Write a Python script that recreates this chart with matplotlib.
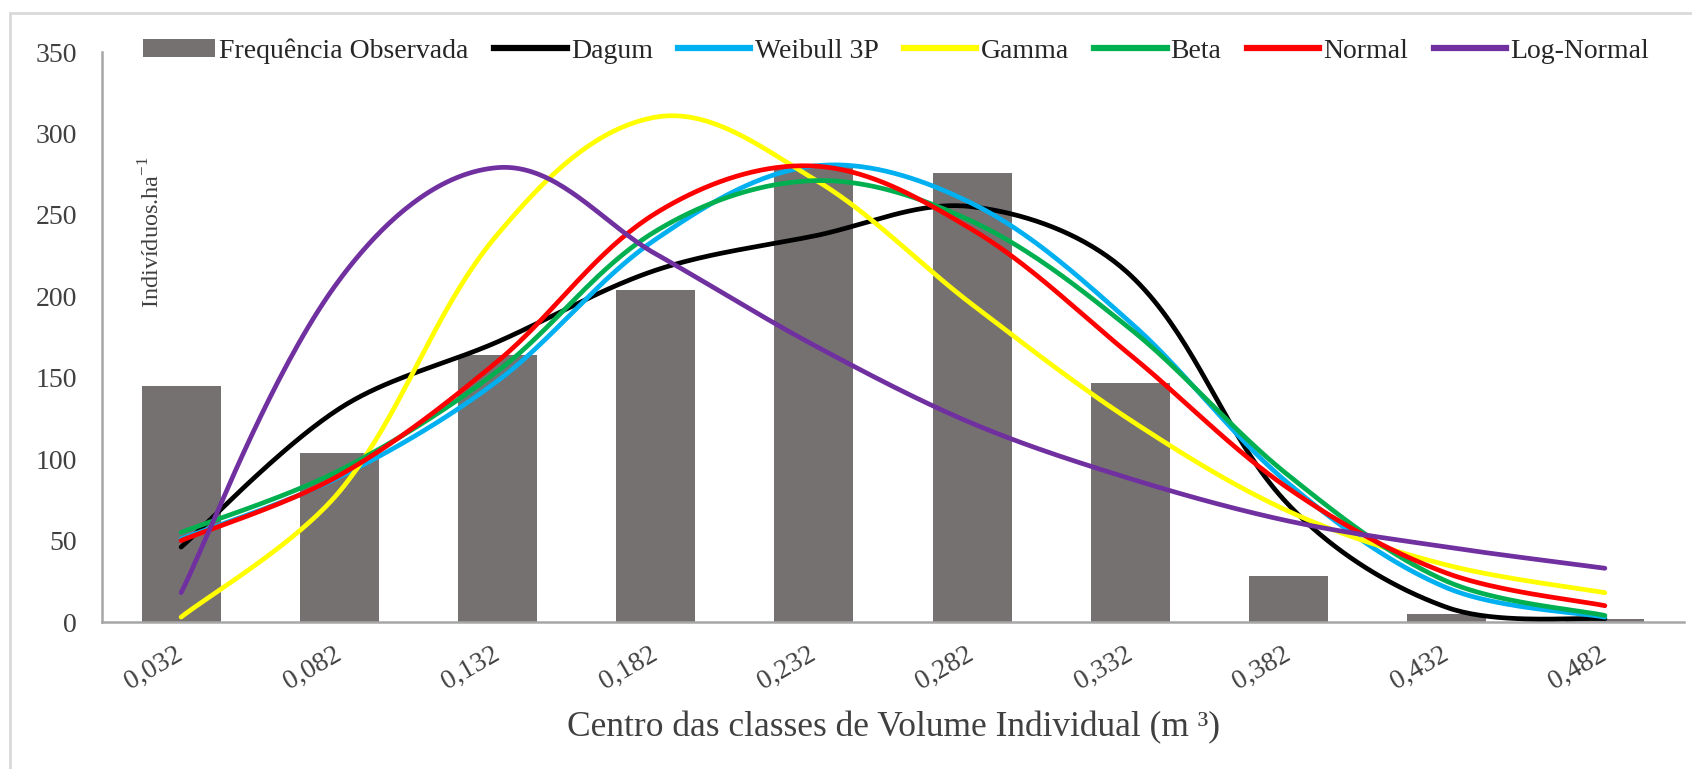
import numpy as np
import matplotlib
matplotlib.use("Agg")
import matplotlib.pyplot as plt
from matplotlib.patches import Rectangle, Patch
from matplotlib.lines import Line2D

# Class centres of individual volume (m³)
classes = ["0,032", "0,082", "0,132", "0,182", "0,232",
           "0,282", "0,332", "0,382", "0,432", "0,482"]

# Observed frequency (individuals per hectare)
observed = [145, 104, 164, 204, 280, 276, 147, 28, 5, 2]

# Fitted frequencies per distribution
dagum = [46, 131, 172, 216, 237, 255, 213, 72, 9, 2]
weibull3p = [51, 89, 148, 235, 280, 257, 184, 85, 21, 3]
gamma = [3, 80, 238, 310, 272, 195, 124, 68, 35, 18]
beta = [55, 93, 154, 240, 271, 246, 180, 90, 25, 4]
normal = [50, 90, 160, 251, 280, 241, 164, 82, 30, 10]
lognormal = [18, 210, 279, 226, 170, 122, 88, 62, 46, 33]

series_names = ["Dagum", "Weibull 3P", "Gamma", "Beta", "Normal", "Log-Normal"]
series_values = [dagum, weibull3p, gamma, beta, normal, lognormal]
series_colors = ["#000000", "#00B0F0", "#FFFF00", "#00B050", "#FF0000", "#7030A0"]

SERIF = ["Liberation Serif", "DejaVu Serif"]
plt.rcParams["font.family"] = SERIF
plt.rcParams["mathtext.fontset"] = "custom"
plt.rcParams["mathtext.rm"] = "Liberation Serif"


def smooth_curve(ax, xv, yv, samples=40):
    """Smoothed line through the points: cubic Bezier segments built in
    screen space, tangent along the neighbouring chord, handle = 1/3 segment."""
    pts = ax.transData.transform(np.column_stack([xv, yv]).astype(float))
    n = len(pts)
    dirs = np.empty_like(pts)
    for i in range(n):
        if i == 0:
            d = pts[1] - pts[0]
        elif i == n - 1:
            d = pts[-1] - pts[-2]
        else:
            d = pts[i + 1] - pts[i - 1]
        dirs[i] = d / np.hypot(*d)
    t = np.linspace(0, 1, samples, endpoint=False)[:, None]
    out = []
    for i in range(n - 1):
        p0, p3 = pts[i], pts[i + 1]
        seg = np.hypot(*(p3 - p0))
        h0 = seg / (6 if i == 0 else 3)
        h1 = seg / (6 if i == n - 2 else 3)
        p1 = p0 + dirs[i] * h0
        p2 = p3 - dirs[i + 1] * h1
        out.append((1 - t) ** 3 * p0 + 3 * (1 - t) ** 2 * t * p1
                   + 3 * (1 - t) * t ** 2 * p2 + t ** 3 * p3)
    out.append(pts[-1:])
    curve = ax.transData.inverted().transform(np.vstack(out))
    return curve[:, 0], curve[:, 1]


W, H = 1692, 769
fig = plt.figure(figsize=(W / 100, H / 100), dpi=100)

# chart-area border
fig.patches.append(Rectangle((10 / W, -0.05), 1.2, (H - 13) / H + 0.05,
                             transform=fig.transFigure, fill=False,
                             edgecolor="#d9d9d9", linewidth=2.0))

left, right, bottom, top = 102, 1684, 622, 52
ax = fig.add_axes([left / W, 1 - bottom / H, (right - left) / W, (bottom - top) / H])

x = np.arange(len(classes))
ax.set_xlim(-0.5, len(classes) - 0.5)
ax.set_ylim(0, 350)

ax.bar(x, observed, width=0.5, color="#767171", zorder=1)

for vals, color, name in zip(series_values, series_colors, series_names):
    xs, ys = smooth_curve(ax, x, vals)
    ax.plot(xs, ys, color=color, linewidth=3.4, solid_capstyle="round", zorder=3)

ax.set_xlim(-0.5, len(classes) - 0.5)
ax.set_ylim(0, 350)
ax.set_yticks(np.arange(0, 351, 50))
ax.set_xticks(x)
ax.set_xticklabels(classes, rotation=30, ha="right", va="center",
                   rotation_mode="anchor")
ax.tick_params(axis="both", length=0, labelcolor="#404040", labelsize=20)
ax.tick_params(axis="y", pad=18)
ax.tick_params(axis="x", pad=22)

for s in ("top", "right"):
    ax.spines[s].set_visible(False)
for s in ("left", "bottom"):
    ax.spines[s].set_color("#a6a6a6")
    ax.spines[s].set_linewidth(1.8)

ax.set_xlabel("Centro das classes de Volume Individual (m ³)", fontsize=25.5,
              color="#404040", labelpad=12)

fig.text(152 / W, 1 - 232 / H, r"Indivíduos.ha$^{-1}$", rotation=90,
         ha="center", va="center", fontsize=17.5, color="#404040")

handles = [Patch(facecolor="#767171", edgecolor="none")]
handles += [Line2D([], [], color=c, linewidth=4.5) for c in series_colors]
labels = ["Frequência Observada"] + series_names
fig.legend(handles, labels, loc="center left",
           bbox_to_anchor=(143 / W, 1 - 51 / H), ncol=7, frameon=False,
           fontsize=20, handlelength=2.6, handleheight=0.6,
           handletextpad=0.15, columnspacing=0.92, borderpad=0,
           borderaxespad=0, labelcolor="#262626")

fig.savefig("out.png", dpi=100)
